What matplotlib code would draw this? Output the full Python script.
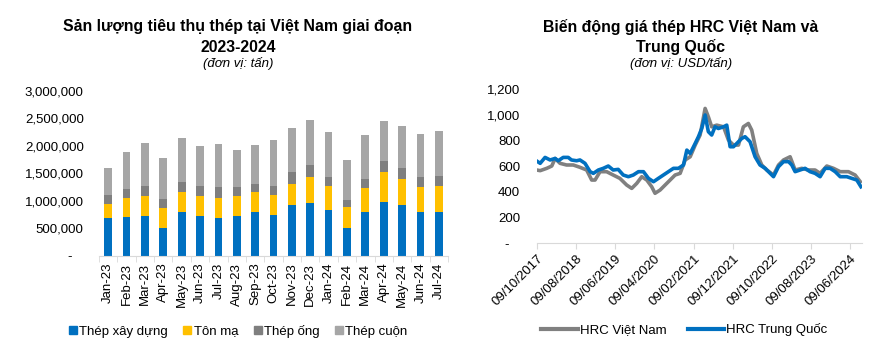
import matplotlib
matplotlib.use("Agg")
import matplotlib.pyplot as plt
import matplotlib.dates as mdates
from matplotlib.lines import Line2D
from matplotlib.patches import Patch
import numpy as np
import pandas as pd

plt.rcParams['font.family'] = ['Liberation Sans', 'DejaVu Sans']

# --- du lieu bieu do cot (nghin tan) ---
thang = ['Jan-23', 'Feb-23', 'Mar-23', 'Apr-23', 'May-23', 'Jun-23', 'Jul-23', 'Aug-23',
         'Sep-23', 'Oct-23', 'Nov-23', 'Dec-23', 'Jan-24', 'Feb-24', 'Mar-24', 'Apr-24',
         'May-24', 'Jun-24', 'Jul-24']
thep_xay_dung = [690, 709, 727, 509, 794, 721, 691, 727, 794, 745, 921, 964, 830, 497, 788, 982, 915, 800, 795]
ton_ma = [249, 333, 364, 364, 364, 364, 364, 364, 358, 358, 388, 472, 437, 388, 448, 545, 485, 442, 472]
thep_ong = [164, 164, 176, 163, 187, 182, 193, 157, 157, 164, 218, 212, 163, 133, 164, 200, 200, 188, 182]
thep_cuon = [497, 685, 775, 746, 794, 721, 776, 667, 697, 830, 788, 819, 812, 721, 794, 721, 752, 776, 824]

# --- gia HRC (USD/tan) ---
ngay_vn = ['2017-10-09', '2017-11-05', '2017-12-26', '2018-02-03', '2018-03-01', '2018-04-08',
           '2018-05-29', '2018-07-20', '2018-09-10', '2018-11-01', '2018-12-10', '2019-01-05',
           '2019-02-13', '2019-04-05', '2019-05-26', '2019-07-17', '2019-09-08', '2019-10-17',
           '2019-11-25', '2020-01-03', '2020-02-11', '2020-03-20', '2020-04-15', '2020-05-24',
           '2020-07-02', '2020-08-10', '2020-09-18', '2020-10-27', '2020-12-05', '2021-01-13',
           '2021-02-21', '2021-03-31', '2021-05-09', '2021-06-03', '2021-06-29', '2021-08-07',
           '2021-09-29', '2021-11-06', '2021-12-15', '2022-01-23', '2022-03-02', '2022-04-10',
           '2022-05-06', '2022-06-14', '2022-07-23', '2022-08-31', '2022-10-22', '2022-11-30',
           '2023-01-08', '2023-02-28', '2023-04-08', '2023-05-29', '2023-07-20', '2023-09-10',
           '2023-10-19', '2023-12-10', '2024-01-31', '2024-03-23', '2024-05-26', '2024-07-17',
           '2024-08-26']
hrc_vn = [570, 565, 583, 601, 660, 622, 609, 609, 591, 570, 492, 492,
          557, 557, 531, 505, 453, 427, 466, 518, 492, 440, 389, 414,
          453, 492, 531, 544, 648, 673, 764, 842, 1049, 984, 906, 919,
          906, 803, 764, 764, 906, 932, 880, 699, 609, 570, 531, 609,
          648, 673, 570, 583, 570, 570, 544, 601, 583, 557, 557, 531,
          479]

ngay_tq = ['2017-10-09', '2017-11-05', '2017-12-13', '2018-01-21', '2018-03-01', '2018-03-25',
           '2018-05-03', '2018-06-11', '2018-07-06', '2018-08-15', '2018-09-10', '2018-10-19',
           '2018-11-28', '2018-12-23', '2019-01-31', '2019-03-10', '2019-04-18', '2019-05-26',
           '2019-07-04', '2019-08-12', '2019-09-21', '2019-10-29', '2019-12-08', '2020-01-16',
           '2020-02-24', '2020-04-03', '2020-05-11', '2020-06-19', '2020-07-28', '2020-09-05',
           '2020-10-14', '2020-11-22', '2020-12-18', '2021-01-13', '2021-02-21', '2021-03-18',
           '2021-04-13', '2021-05-09', '2021-06-03', '2021-06-29', '2021-07-25', '2021-08-20',
           '2021-09-29', '2021-10-24', '2021-11-19', '2021-12-15', '2022-01-23', '2022-02-18',
           '2022-03-15', '2022-04-23', '2022-06-01', '2022-07-09', '2022-08-18', '2022-09-26',
           '2022-10-22', '2022-11-30', '2023-01-08', '2023-02-16', '2023-03-13', '2023-04-08',
           '2023-05-16', '2023-06-24', '2023-08-02', '2023-09-10', '2023-10-19', '2023-11-27',
           '2024-01-05', '2024-02-13', '2024-03-23', '2024-05-13', '2024-06-21', '2024-07-30',
           '2024-08-31']
hrc_tq = [640, 622, 668, 648, 660, 642, 668, 668, 648, 642, 648, 622,
          557, 544, 570, 583, 601, 570, 575, 531, 518, 531, 557, 557,
          505, 479, 505, 531, 557, 583, 583, 609, 725, 699, 777, 829,
          893, 998, 868, 842, 906, 893, 906, 919, 751, 751, 790, 816,
          829, 790, 673, 609, 583, 544, 518, 596, 635, 635, 609, 557,
          570, 583, 557, 544, 518, 583, 583, 557, 518, 518, 505, 492,
          440]

moc_ngay = ['2017-10-09', '2018-08-09', '2019-06-09', '2020-04-09', '2021-02-09',
            '2021-12-09', '2022-10-09', '2023-08-09', '2024-06-09']

xanh = '#0070C0'
vang = '#FFC000'
xam_dam = '#7F7F7F'
xam_nhat = '#A6A6A6'
co_chu = 9.5

fig = plt.figure(figsize=(8.72, 3.5), dpi=100)

# ===== bieu do cot =====
ax1 = fig.add_axes([99 / 872, 1 - 255.7 / 350, 349 / 872, 165 / 350])
x = np.arange(len(thang))
w = 0.42
s1 = np.array(thep_xay_dung) * 1000
s2 = np.array(ton_ma) * 1000
s3 = np.array(thep_ong) * 1000
s4 = np.array(thep_cuon) * 1000
ax1.bar(x, s1, w, color=xanh)
ax1.bar(x, s2, w, bottom=s1, color=vang)
ax1.bar(x, s3, w, bottom=s1 + s2, color=xam_dam)
ax1.bar(x, s4, w, bottom=s1 + s2 + s3, color=xam_nhat)
ax1.set_xlim(-0.5, len(thang) - 0.5)
ax1.set_ylim(0, 3000000)
ax1.set_yticks(np.arange(0, 3000001, 500000))
ax1.set_yticklabels(['-   '] + [f'{v:,}' for v in range(500000, 3000001, 500000)], fontsize=co_chu)
ax1.set_xticks(x)
ax1.set_xticklabels(thang, rotation=90, fontsize=co_chu)
ax1.set_xticks(np.arange(-0.5, len(thang), 1), minor=True)
ax1.tick_params(axis='x', which='major', length=0, pad=5)
ax1.tick_params(axis='x', which='minor', length=4, color='#D9D9D9')
ax1.tick_params(axis='y', length=0, pad=11)
for k in ['top', 'right', 'left']:
    ax1.spines[k].set_visible(False)
ax1.spines['bottom'].set_color('#D9D9D9')

fig.text(238 / 872, 1 - 27 / 350, 'Sản lượng tiêu thụ thép tại Việt Nam giai đoạn',
         ha='center', va='center', fontsize=11.4, fontweight='bold')
fig.text(238 / 872, 1 - 47 / 350, '2023-2024', ha='center', va='center', fontsize=11.4, fontweight='bold')
fig.text(238 / 872, 1 - 64 / 350, '(đơn vị: tấn)', ha='center', va='center', fontsize=9.5, style='italic')

h1 = [Patch(color=c) for c in [xanh, vang, xam_dam, xam_nhat]]
fig.legend(h1, ['Thép xây dựng', 'Tôn mạ', 'Thép ống', 'Thép cuộn'],
           loc='center left', bbox_to_anchor=(57 / 872, 1 - 331 / 350), ncol=4, frameon=False,
           fontsize=co_chu, handlelength=0.6, handleheight=0.6, handletextpad=0.2, columnspacing=1.15)

# ===== bieu do duong =====
ax2 = fig.add_axes([536.7 / 872, 1 - 243.3 / 350, 325 / 872, 154.3 / 350])
ax2.plot(pd.to_datetime(ngay_vn), hrc_vn, color='#808080', lw=2.6)
ax2.plot(pd.to_datetime(ngay_tq), hrc_tq, color=xanh, lw=2.6)
ax2.set_xlim(pd.Timestamp('2017-10-09'), pd.Timestamp('2024-09-06'))
ax2.set_ylim(0, 1200)
ax2.set_yticks(np.arange(0, 1201, 200))
ax2.set_yticklabels(['-   '] + [f'{v:,}' for v in range(200, 1201, 200)], fontsize=co_chu)
ax2.set_xticks(pd.to_datetime(moc_ngay))
ax2.xaxis.set_major_formatter(mdates.DateFormatter('%d/%m/%Y'))
plt.setp(ax2.get_xticklabels(), rotation=45, ha='right', rotation_mode='anchor', fontsize=co_chu)
ax2.tick_params(axis='x', length=4, color='#D9D9D9', pad=3)
ax2.tick_params(axis='y', length=0, pad=12)
for k in ['top', 'right', 'left']:
    ax2.spines[k].set_visible(False)
ax2.spines['bottom'].set_color('#D9D9D9')

fig.text(681 / 872, 1 - 27 / 350, 'Biến động giá thép HRC Việt Nam và',
         ha='center', va='center', fontsize=11.4, fontweight='bold')
fig.text(681 / 872, 1 - 47 / 350, 'Trung Quốc', ha='center', va='center', fontsize=11.4, fontweight='bold')
fig.text(681 / 872, 1 - 64 / 350, '(đơn vị: USD/tấn)', ha='center', va='center', fontsize=9.5, style='italic')

h2 = [Line2D([], [], color='#808080', lw=3), Line2D([], [], color=xanh, lw=3)]
fig.legend(h2, ['HRC Việt Nam', 'HRC Trung Quốc'], loc='center left',
           bbox_to_anchor=(529 / 872, 1 - 330 / 350), ncol=2, frameon=False, fontsize=co_chu,
           handlelength=2.8, handletextpad=0.15, columnspacing=1.6)

fig.savefig('out.png', dpi=100)
